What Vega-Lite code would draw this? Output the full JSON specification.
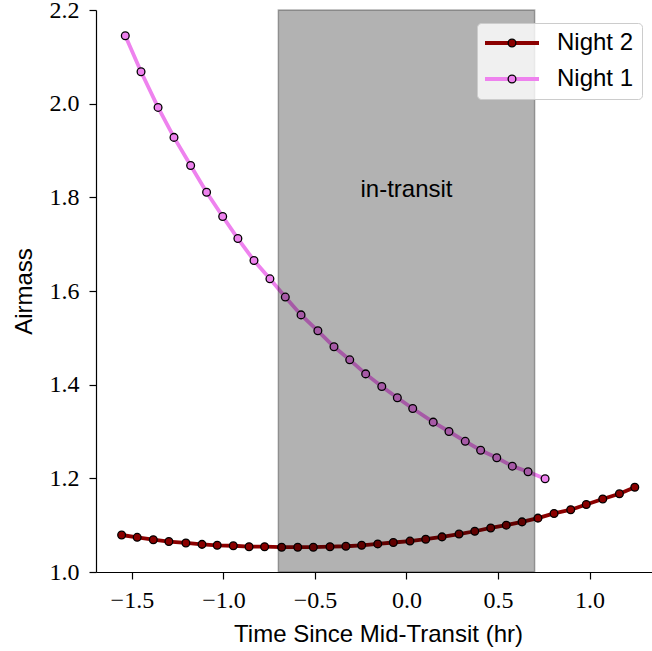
{
  "$schema": "https://vega.github.io/schema/vega-lite/v6.json",
  "width": 556,
  "height": 562,
  "autosize": {"type": "none"},
  "padding": {"left": 96, "top": 10, "right": 0, "bottom": 79},
  "background": "white",
  "config": {
    "view": {"stroke": null},
    "axis": {
      "domainColor": "black",
      "domainWidth": 1.2,
      "tickColor": "black",
      "tickWidth": 1.2,
      "tickSize": 7,
      "grid": false,
      "labelFont": "Liberation Serif",
      "labelFontSize": 24,
      "labelColor": "black",
      "labelFlush": false,
      "labelOverlap": false,
      "titleFont": "Liberation Sans",
      "titleFontSize": 24,
      "titleFontWeight": "normal",
      "titleColor": "black"
    }
  },
  "datasets": {
    "airmass": [
      {"night": "Night 2", "t": -1.556, "airmass": 1.079},
      {"night": "Night 2", "t": -1.471, "airmass": 1.074},
      {"night": "Night 2", "t": -1.383, "airmass": 1.069},
      {"night": "Night 2", "t": -1.298, "airmass": 1.065},
      {"night": "Night 2", "t": -1.205, "airmass": 1.062},
      {"night": "Night 2", "t": -1.117, "airmass": 1.059},
      {"night": "Night 2", "t": -1.034, "airmass": 1.057},
      {"night": "Night 2", "t": -0.946, "airmass": 1.056},
      {"night": "Night 2", "t": -0.860, "airmass": 1.054},
      {"night": "Night 2", "t": -0.775, "airmass": 1.054},
      {"night": "Night 2", "t": -0.682, "airmass": 1.053},
      {"night": "Night 2", "t": -0.594, "airmass": 1.053},
      {"night": "Night 2", "t": -0.509, "airmass": 1.053},
      {"night": "Night 2", "t": -0.418, "airmass": 1.054},
      {"night": "Night 2", "t": -0.331, "airmass": 1.055},
      {"night": "Night 2", "t": -0.245, "airmass": 1.057},
      {"night": "Night 2", "t": -0.157, "airmass": 1.060},
      {"night": "Night 2", "t": -0.072, "airmass": 1.063},
      {"night": "Night 2", "t": 0.019, "airmass": 1.066},
      {"night": "Night 2", "t": 0.105, "airmass": 1.070},
      {"night": "Night 2", "t": 0.194, "airmass": 1.075},
      {"night": "Night 2", "t": 0.287, "airmass": 1.081},
      {"night": "Night 2", "t": 0.373, "airmass": 1.087},
      {"night": "Night 2", "t": 0.460, "airmass": 1.094},
      {"night": "Night 2", "t": 0.545, "airmass": 1.100},
      {"night": "Night 2", "t": 0.631, "airmass": 1.107},
      {"night": "Night 2", "t": 0.718, "airmass": 1.115},
      {"night": "Night 2", "t": 0.806, "airmass": 1.125},
      {"night": "Night 2", "t": 0.897, "airmass": 1.133},
      {"night": "Night 2", "t": 0.982, "airmass": 1.144},
      {"night": "Night 2", "t": 1.072, "airmass": 1.156},
      {"night": "Night 2", "t": 1.163, "airmass": 1.167},
      {"night": "Night 2", "t": 1.247, "airmass": 1.181},
      {"night": "Night 1", "t": -1.536, "airmass": 2.145},
      {"night": "Night 1", "t": -1.450, "airmass": 2.068},
      {"night": "Night 1", "t": -1.357, "airmass": 1.992},
      {"night": "Night 1", "t": -1.270, "airmass": 1.928},
      {"night": "Night 1", "t": -1.179, "airmass": 1.868},
      {"night": "Night 1", "t": -1.092, "airmass": 1.811},
      {"night": "Night 1", "t": -1.004, "airmass": 1.759},
      {"night": "Night 1", "t": -0.921, "airmass": 1.712},
      {"night": "Night 1", "t": -0.833, "airmass": 1.665},
      {"night": "Night 1", "t": -0.746, "airmass": 1.626},
      {"night": "Night 1", "t": -0.662, "airmass": 1.587},
      {"night": "Night 1", "t": -0.576, "airmass": 1.549},
      {"night": "Night 1", "t": -0.484, "airmass": 1.515},
      {"night": "Night 1", "t": -0.396, "airmass": 1.481},
      {"night": "Night 1", "t": -0.310, "airmass": 1.453},
      {"night": "Night 1", "t": -0.223, "airmass": 1.423},
      {"night": "Night 1", "t": -0.135, "airmass": 1.396},
      {"night": "Night 1", "t": -0.050, "airmass": 1.372},
      {"night": "Night 1", "t": 0.034, "airmass": 1.349},
      {"night": "Night 1", "t": 0.146, "airmass": 1.320},
      {"night": "Night 1", "t": 0.232, "airmass": 1.300},
      {"night": "Night 1", "t": 0.321, "airmass": 1.279},
      {"night": "Night 1", "t": 0.405, "airmass": 1.260},
      {"night": "Night 1", "t": 0.493, "airmass": 1.244},
      {"night": "Night 1", "t": 0.578, "airmass": 1.226},
      {"night": "Night 1", "t": 0.664, "airmass": 1.214},
      {"night": "Night 1", "t": 0.757, "airmass": 1.199}
    ],
    "transit": [
      {"start": -0.7, "end": 0.7, "label": "in-transit"}
    ]
  },
  "layer": [
    {
      "data": {"name": "airmass"},
      "mark": {"type": "line", "strokeWidth": 3.8},
      "encoding": {
        "x": {
          "field": "t",
          "type": "quantitative",
          "scale": {"domain": [-1.696, 1.341], "nice": false, "zero": false},
          "axis": {
            "values": [-1.5, -1, -0.5, 0, 0.5, 1],
            "format": ".1f",
            "labelPadding": 9,
            "title": "Time Since Mid-Transit (hr)",
            "titleX": 282,
            "titleY": 69,
            "titleBaseline": "alphabetic",
            "titleAlign": "center",
            "zindex": 1
          }
        },
        "y": {
          "field": "airmass",
          "type": "quantitative",
          "scale": {"domain": [1.0, 2.2], "nice": false, "zero": false},
          "axis": {
            "values": [1.0, 1.2, 1.4, 1.6, 1.8, 2.0, 2.2],
            "format": ".1f",
            "labelPadding": 10,
            "title": "Airmass",
            "titleAngle": 270,
            "titleX": -65,
            "titleY": 281,
            "titleBaseline": "alphabetic",
            "titleAlign": "center",
            "zindex": 1
          }
        },
        "stroke": {
          "field": "night",
          "type": "nominal",
          "scale": {"domain": ["Night 2", "Night 1"], "range": ["#8b0000", "#ee82ee"]},
          "legend": {
            "title": null,
            "orient": "none",
            "direction": "vertical",
            "legendX": 381,
            "legendY": 13,
            "padding": 8,
            "rowPadding": 12,
            "symbolType": "M-3,0H3",
            "symbolSize": 324,
            "symbolStrokeWidth": 3.8,
            "symbolFillColor": "transparent",
            "symbolOffset": 15,
            "labelOffset": 33,
            "labelFont": "Liberation Sans",
            "labelFontSize": 24,
            "labelColor": "black",
            "fillColor": "rgba(255,255,255,0.8)",
            "strokeColor": "#cccccc",
            "cornerRadius": 4,
            "zindex": 1
          }
        }
      }
    },
    {
      "data": {"name": "airmass"},
      "mark": {"type": "circle", "size": 60, "stroke": "black", "strokeWidth": 1.3, "opacity": 1},
      "encoding": {
        "x": {"field": "t", "type": "quantitative"},
        "y": {"field": "airmass", "type": "quantitative"},
        "fill": {
          "field": "night",
          "type": "nominal",
          "sort": "descending",
          "scale": {"range": ["#8b0000", "#ee82ee"]},
          "legend": {
            "title": null,
            "orient": "none",
            "direction": "vertical",
            "legendX": 381,
            "legendY": 13,
            "padding": 8,
            "rowPadding": 12,
            "symbolType": "circle",
            "symbolSize": 60,
            "symbolStrokeColor": "black",
            "symbolStrokeWidth": 1.3,
            "symbolOpacity": 1,
            "symbolOffset": 15,
            "labelFontSize": 24,
            "labelExpr": "''",
            "zindex": 2
          }
        }
      }
    },
    {
      "data": {"name": "transit"},
      "mark": {
        "type": "rect",
        "fill": "black",
        "fillOpacity": 0.3,
        "stroke": "black",
        "strokeOpacity": 0.3,
        "strokeWidth": 1.5
      },
      "encoding": {
        "x": {"field": "start", "type": "quantitative"},
        "x2": {"field": "end"}
      }
    },
    {
      "data": {"name": "transit"},
      "mark": {
        "type": "text",
        "font": "Liberation Sans",
        "fontSize": 24,
        "align": "center",
        "baseline": "alphabetic",
        "color": "black"
      },
      "encoding": {
        "x": {"datum": 0, "type": "quantitative"},
        "y": {"datum": 1.8, "type": "quantitative"},
        "text": {"field": "label"}
      }
    },
    {
      "mark": {"type": "rule", "color": "black", "strokeWidth": 1.2},
      "encoding": {
        "y": {"datum": 2.2, "type": "quantitative"}
      }
    }
  ]
}
